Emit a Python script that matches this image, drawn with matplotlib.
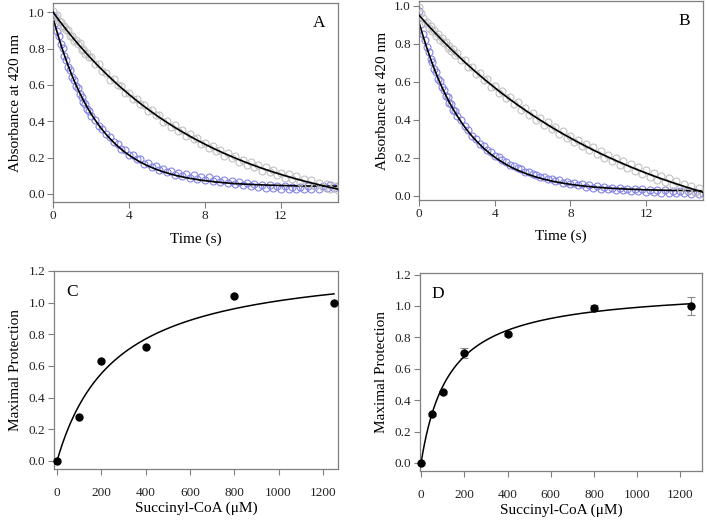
import numpy as np
import matplotlib
matplotlib.use("Agg")
import matplotlib.pyplot as plt

plt.rcParams['font.family'] = ['Liberation Serif', 'DejaVu Serif']

# temps d'acquisition (s), communs aux quatre traces
t_data = [0.0, 0.1, 0.2, 0.3, 0.4, 0.5, 0.6, 0.7, 0.8, 0.9, 1.0, 1.1, 1.2, 1.3, 1.4, 1.5, 1.6, 1.7, 1.8, 1.9, 2.0,
          2.2, 2.4, 2.6, 2.8, 3.0, 3.2, 3.4, 3.6, 3.8, 4.0, 4.2, 4.4, 4.6, 4.8, 5.0, 5.2, 5.4, 5.6, 5.8, 6.0,
          6.2, 6.4, 6.6, 6.8, 7.0, 7.2, 7.4, 7.6, 7.8, 8.0, 8.2, 8.4, 8.6, 8.8, 9.0, 9.2, 9.4, 9.6, 9.8, 10.0,
          10.2, 10.4, 10.6, 10.8, 11.0, 11.2, 11.4, 11.6, 11.8, 12.0, 12.2, 12.4, 12.6, 12.8, 13.0, 13.2, 13.4,
          13.6, 13.8, 14.0, 14.2, 14.4, 14.6, 14.8, 15.0]

a_gray = [1.005, 0.980, 0.982, 0.949, 0.948, 0.919, 0.925, 0.900, 0.902, 0.870, 0.871, 0.840, 0.849, 0.826, 0.828,
          0.794, 0.797, 0.769, 0.778, 0.752, 0.753, 0.714, 0.713, 0.674, 0.665, 0.628, 0.630, 0.599, 0.596, 0.557,
          0.554, 0.520, 0.524, 0.492, 0.489, 0.454, 0.461, 0.432, 0.434, 0.397, 0.399, 0.368, 0.378, 0.348, 0.351,
          0.316, 0.328, 0.302, 0.307, 0.273, 0.280, 0.251, 0.264, 0.237, 0.243, 0.210, 0.223, 0.200, 0.210, 0.177,
          0.188, 0.159, 0.176, 0.149, 0.159, 0.127, 0.146, 0.121, 0.134, 0.101, 0.117, 0.085, 0.107, 0.080, 0.097,
          0.063, 0.083, 0.056, 0.074, 0.043, 0.061, 0.035, 0.053, 0.027, 0.043, 0.020]
a_blue = [0.985, 0.940, 0.897, 0.868, 0.826, 0.801, 0.760, 0.737, 0.701, 0.681, 0.645, 0.627, 0.592, 0.580, 0.547,
          0.535, 0.503, 0.494, 0.466, 0.458, 0.430, 0.409, 0.372, 0.356, 0.328, 0.313, 0.284, 0.275, 0.246, 0.242,
          0.216, 0.214, 0.190, 0.191, 0.166, 0.170, 0.148, 0.153, 0.131, 0.139, 0.118, 0.127, 0.106, 0.116, 0.096,
          0.108, 0.088, 0.101, 0.081, 0.095, 0.074, 0.090, 0.069, 0.084, 0.064, 0.078, 0.058, 0.072, 0.052, 0.066,
          0.046, 0.060, 0.041, 0.055, 0.037, 0.051, 0.034, 0.048, 0.031, 0.045, 0.028, 0.042, 0.026, 0.040, 0.025,
          0.039, 0.026, 0.041, 0.027, 0.043, 0.028, 0.044, 0.030, 0.046, 0.031, 0.045]
b_gray = [0.995, 0.962, 0.935, 0.912, 0.915, 0.886, 0.893, 0.866, 0.873, 0.843, 0.850, 0.822, 0.832, 0.803, 0.812,
          0.781, 0.790, 0.762, 0.773, 0.743, 0.752, 0.714, 0.716, 0.678, 0.681, 0.641, 0.646, 0.608, 0.613, 0.576,
          0.581, 0.543, 0.550, 0.513, 0.521, 0.483, 0.492, 0.454, 0.465, 0.427, 0.437, 0.400, 0.412, 0.375, 0.388,
          0.350, 0.363, 0.326, 0.340, 0.304, 0.318, 0.282, 0.296, 0.261, 0.276, 0.240, 0.256, 0.221, 0.236, 0.201,
          0.218, 0.183, 0.200, 0.165, 0.183, 0.148, 0.166, 0.131, 0.150, 0.115, 0.134, 0.099, 0.120, 0.085, 0.106,
          0.071, 0.092, 0.057, 0.078, 0.044, 0.065, 0.031, 0.052, 0.019, 0.040, 0.008]
b_blue = [0.975, 0.905, 0.850, 0.822, 0.782, 0.760, 0.722, 0.703, 0.668, 0.651, 0.616, 0.603, 0.571, 0.560, 0.528,
          0.519, 0.490, 0.482, 0.455, 0.447, 0.422, 0.400, 0.366, 0.347, 0.318, 0.302, 0.276, 0.263, 0.242, 0.231,
          0.212, 0.203, 0.187, 0.180, 0.164, 0.159, 0.145, 0.141, 0.128, 0.126, 0.113, 0.112, 0.100, 0.101, 0.088,
          0.091, 0.078, 0.082, 0.069, 0.074, 0.062, 0.067, 0.055, 0.061, 0.049, 0.056, 0.044, 0.052, 0.039, 0.048,
          0.035, 0.044, 0.032, 0.041, 0.029, 0.038, 0.026, 0.036, 0.024, 0.034, 0.022, 0.032, 0.020, 0.030, 0.018,
          0.029, 0.017, 0.027, 0.015, 0.026, 0.013, 0.024, 0.011, 0.022, 0.009, 0.018]

# paramètres des ajustements exponentiels : amplitude, constante de vitesse, décalage
fit_a_gray = [1.15, 0.125, -0.15]
fit_a_blue = [0.93, 0.42, 0.04]
fit_b_gray = [1.25, 0.0908, -0.30]
fit_b_blue = [0.885, 0.40, 0.025]

# titrations succinyl-CoA
conc_c = [0, 100, 200, 400, 800, 1250]
prot_c = [0.0, 0.28, 0.63, 0.72, 1.04, 1.00]
conc_d = [0, 50, 100, 200, 400, 800, 1250]
prot_d = [0.0, 0.31, 0.45, 0.70, 0.82, 0.99, 1.00]
err_d = [0.0, 0.008, 0.01, 0.03, 0.01, 0.015, 0.06]
# ajustements hyperboliques : Bmax, Kd
fit_c = [1.277, 263]
fit_d = [1.12, 130]

GRAY_C = '#c2c2c2'
BLUE_C = '#8585e6'
FRAME = '#7f7f7f'


def style_axes(ax, xpad=2):
    for s in ax.spines.values():
        s.set_color(FRAME)
        s.set_linewidth(0.9)
    ax.tick_params(direction='out', length=4, width=0.8, color=FRAME,
                   labelsize=9.5, labelcolor='#222222', pad=2)
    ax.tick_params(axis='x', pad=xpad)


def decay(p, t):
    return p[0] * np.exp(-p[1] * t) + p[2]


def kinetics_panel(ax, blue, gray, fb, fg, ylim, letter):
    t = np.linspace(0, 15, 300)
    ax.plot(t_data, blue, 'o', ms=5, mfc='none', mec=BLUE_C, mew=0.8, zorder=1)
    ax.plot(t, decay(fb, t), color='black', lw=1.2, zorder=2)
    ax.plot(t_data, gray, 'o', ms=5, mfc='none', mec=GRAY_C, mew=0.8, zorder=3)
    ax.plot(t, decay(fg, t), color='black', lw=1.2, zorder=4)
    ax.set_xlim(0, 15)
    ax.set_ylim(*ylim)
    ax.set_xticks([0, 4, 8, 12])
    ax.set_yticks([0.0, 0.2, 0.4, 0.6, 0.8, 1.0])
    ax.yaxis.set_major_formatter(plt.FormatStrFormatter('%.1f'))
    ax.set_xlabel('Time (s)', fontsize=11, labelpad=7)
    ax.set_ylabel('Absorbance at 420 nm', fontsize=11, labelpad=4)
    ax.text(0.935, 0.9, letter, transform=ax.transAxes, fontsize=12.5, ha='center', va='center')
    style_axes(ax)


def binding_panel(ax, conc, prot, fit, ylim, letter, err=None):
    x = np.linspace(0, 1250, 300)
    ax.plot(x, fit[0] * x / (fit[1] + x), color='black', lw=1.1, zorder=2)
    if err is not None:
        ax.errorbar(conc, prot, yerr=err, fmt='none', ecolor='#8a8a8a', elinewidth=0.8,
                    capsize=3, capthick=0.8, zorder=1)
    ax.plot(conc, prot, 'o', ms=5, color='black', zorder=3, clip_on=False)
    ax.set_xlim(-15, 1268)
    ax.set_ylim(*ylim)
    ax.set_xticks([0, 200, 400, 600, 800, 1000, 1200])
    ax.set_yticks([0.0, 0.2, 0.4, 0.6, 0.8, 1.0, 1.2])
    ax.yaxis.set_major_formatter(plt.FormatStrFormatter('%.1f'))
    ax.set_xlabel('Succinyl-CoA (\u03bcM)', fontsize=11, labelpad=2)
    ax.set_ylabel('Maximal Protection', fontsize=11, labelpad=5)
    ax.text(0.063, 0.895, letter, transform=ax.transAxes, fontsize=12.5, ha='center', va='center')
    style_axes(ax, xpad=9)


fig = plt.figure(figsize=(7.07, 5.22), dpi=100)

ax_a = fig.add_axes([0.075, 0.613, 0.403, 0.381])
kinetics_panel(ax_a, a_blue, a_gray, fit_a_blue, fit_a_gray, (-0.045, 1.05), 'A')

ax_b = fig.add_axes([0.593, 0.617, 0.401, 0.381])
kinetics_panel(ax_b, b_blue, b_gray, fit_b_blue, fit_b_gray, (-0.021, 1.026), 'B')

ax_c = fig.add_axes([0.076, 0.102, 0.402, 0.379])
binding_panel(ax_c, conc_c, prot_c, fit_c, (-0.05, 1.2), 'C')

ax_d = fig.add_axes([0.594, 0.098, 0.399, 0.379])
binding_panel(ax_d, conc_d, prot_d, fit_d, (-0.05, 1.21), 'D', err=err_d)
ax_d.set_xlim(-5, 1300)

fig.savefig('out.png', dpi=100)
